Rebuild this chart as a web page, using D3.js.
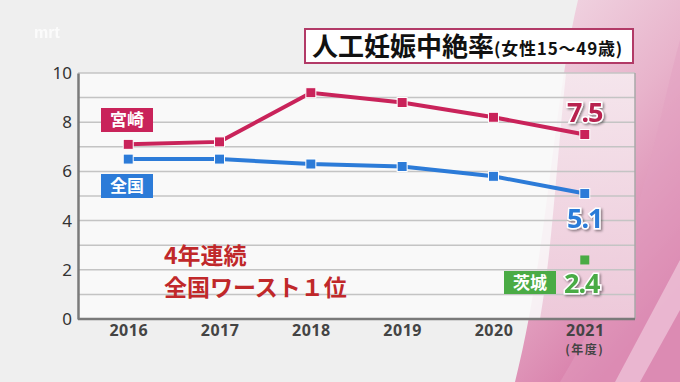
<!DOCTYPE html>
<html><head><meta charset="utf-8">
<script src="https://cdn.jsdelivr.net/npm/d3@7"></script>
<style>body{margin:0;background:#efefef;}svg{display:block;}</style>
</head><body>
<svg id="c" width="680" height="382"></svg>
<script>
const years = ["2016","2017","2018","2019","2020","2021"];
const miyazaki = [7.1, 7.2, 9.2, 8.8, 8.2, 7.5];
const national = [6.5, 6.5, 6.3, 6.2, 5.8, 5.1];
const ibarakiYear = "2021";
const ibaraki = 2.4;
const yTicks = [0, 2, 4, 6, 8, 10];
const gridVals = [1,2,3,4,5,6,7,8,9,10];

const svg = d3.select("#c");
const F = "'Noto Sans CJK JP','Noto Sans',sans-serif";
const defs = svg.append("defs");
const lg = defs.append("linearGradient").attr("id","pk").attr("x1","0").attr("y1","0").attr("x2","0.5").attr("y2","1");
lg.append("stop").attr("offset","0").attr("stop-color","#f2dde7");
lg.append("stop").attr("offset","0.5").attr("stop-color","#e8b3cb");
lg.append("stop").attr("offset","1").attr("stop-color","#d77ba8");
const lg2 = defs.append("linearGradient").attr("id","pk2").attr("x1","0").attr("y1","0").attr("x2","0").attr("y2","1");
lg2.append("stop").attr("offset","0").attr("stop-color","#f3dfe8");
lg2.append("stop").attr("offset","1").attr("stop-color","#e9b9cf");
const sh = defs.append("filter").attr("id","sh").attr("x","-20%").attr("y","-20%").attr("width","140%").attr("height","140%");
sh.append("feDropShadow").attr("dx",1.5).attr("dy",1.5).attr("stdDeviation",1).attr("flood-color","#000").attr("flood-opacity",0.45);

// background
svg.append("rect").attr("width",680).attr("height",382).attr("fill","#efefef");
svg.append("path").attr("d","M578,0 C552,110 548,250 515,382 L680,382 L680,0 Z").attr("fill","url(#pk)");
svg.append("path").attr("d","M680,40 C650,150 640,250 560,382 L680,382 Z").attr("fill","#e2a0c0").attr("opacity",0.45);
svg.append("path").attr("d","M680,260 L615,382 L640,382 L680,310 Z").attr("fill","#f3d3e2").attr("opacity",0.6);

// watermark
svg.append("text").attr("x",34).attr("y",38).attr("font-family","Arial,sans-serif").attr("font-size",16).attr("font-weight","bold").attr("fill","#ffffff").attr("opacity",0.8).text("mrt");

const L = 78, R = 635, T = 73, B = 319;
const x = d3.scalePoint().domain(years).range([L, R]).padding(0.55);
const y = d3.scaleLinear().domain([0, 10]).range([B, T]);

// plot background
svg.append("rect").attr("x",L).attr("y",T).attr("width",R-L).attr("height",B-T).attr("fill","#f9f9f9").attr("opacity",0.9);
svg.append("path").attr("d",`M${R},${T} L${R},${B} L540,${B} C552,250 556,170 566,${T} Z`).attr("fill","url(#pk2)").attr("opacity",0.7);

// grid
svg.append("g").selectAll("line").data(gridVals).join("line")
  .attr("x1",L).attr("x2",R).attr("y1",d=>y(d)).attr("y2",d=>y(d))
  .attr("stroke","#c4c4c4").attr("stroke-width",1.5);
svg.append("line").attr("x1",R).attr("x2",R).attr("y1",T).attr("y2",B).attr("stroke","#a8a8a8").attr("stroke-width",1.5);

// axes
const yAxis = d3.axisLeft(y).tickValues(yTicks).tickSize(0).tickPadding(6);
const gy = svg.append("g").attr("transform",`translate(${L},0)`).call(yAxis);
gy.select(".domain").attr("stroke","#7a7a7a").attr("stroke-width",2.5);
gy.selectAll("text").attr("font-family","'Noto Sans',sans-serif").attr("font-size",17).attr("fill","#333");
const xAxis = d3.axisBottom(x).tickSize(0).tickPadding(6);
const gx = svg.append("g").attr("transform",`translate(0,${B})`).call(xAxis);
gx.select(".domain").attr("d",`M${L},0H${R}`).attr("stroke","#7a7a7a").attr("stroke-width",2.5);
gx.selectAll("text").attr("font-family","'Noto Sans',sans-serif").attr("font-size",16).attr("font-weight","bold").attr("fill","#444").attr("letter-spacing",0.5);
svg.append("text").attr("x",x("2021")).attr("y",354).attr("text-anchor","middle").attr("font-family",F).attr("font-size",12).attr("font-weight","bold").attr("fill","#444").attr("letter-spacing",1.5).text("(年度)");

// lines
const line = d3.line().x((d,i)=>x(years[i])).y(d=>y(d));
function series(vals, col){
  svg.append("path").datum(vals).attr("d",line).attr("fill","none").attr("stroke",col).attr("stroke-width",4);
  svg.append("g").selectAll("rect").data(vals).join("rect")
    .attr("x",(d,i)=>x(years[i])-5).attr("y",d=>y(d)-5).attr("width",10).attr("height",10)
    .attr("fill",col).attr("stroke","#fff").attr("stroke-width",1);
}
const RED = "#c9235a", BLUE = "#2c7bd8", GREEN = "#4aab45";
series(national, BLUE);
series(miyazaki, RED);
svg.append("rect").attr("x",x(ibarakiYear)-4.5).attr("y",y(ibaraki)-4.5).attr("width",9).attr("height",9).attr("fill",GREEN);

// label boxes
function tag(x0,y0,w,h,col,txt){
  svg.append("rect").attr("x",x0).attr("y",y0).attr("width",w).attr("height",h).attr("fill",col);
  svg.append("text").attr("x",x0+w/2).attr("y",y0+h/2+6).attr("text-anchor","middle")
    .attr("font-family",F).attr("font-size",17).attr("font-weight","bold").attr("fill","#fff").text(txt);
}
tag(101,108,52,24,RED,"宮崎");
tag(101,174,52,24,BLUE,"全国");
tag(504,271,52,23,GREEN,"茨城");

// value labels
function val(xx,yy,col,txt,size){
  svg.append("text").attr("x",xx).attr("y",yy).attr("text-anchor","middle")
    .attr("font-family","'Noto Sans',sans-serif").attr("font-size",size).attr("font-weight","bold")
    .attr("fill",col).attr("stroke","#fff").attr("stroke-width",3).attr("paint-order","stroke")
    .attr("filter","url(#sh)").attr("letter-spacing",-1).text(txt);
}
val(x("2021"),122,"#b8204f",d3.format(".1f")(miyazaki[5]),27);
val(x("2021"),228,BLUE,d3.format(".1f")(national[5]),27);
val(x("2021")-3,293,GREEN,d3.format(".1f")(ibaraki),27);

// annotation
const ann = svg.append("text").attr("font-family",F).attr("font-size",23).attr("font-weight","bold").attr("fill","#c0282a");
ann.append("tspan").attr("x",164).attr("y",264).text("4年連続");
ann.append("tspan").attr("x",164).attr("y",296).text("全国ワースト１位");

// title box
svg.append("rect").attr("x",305).attr("y",29).attr("width",328).attr("height",34).attr("fill","#fff").attr("stroke","#b23a67").attr("stroke-width",2);
const tt = svg.append("text").attr("x",312).attr("y",56).attr("font-family",F).attr("font-weight","bold").attr("fill","#111");
tt.append("tspan").attr("font-size",26).text("人工妊娠中絶率");
tt.append("tspan").attr("font-size",17).attr("dy",-1).attr("letter-spacing",0.8).text("(女性15〜49歳)");
</script>
</body></html>
